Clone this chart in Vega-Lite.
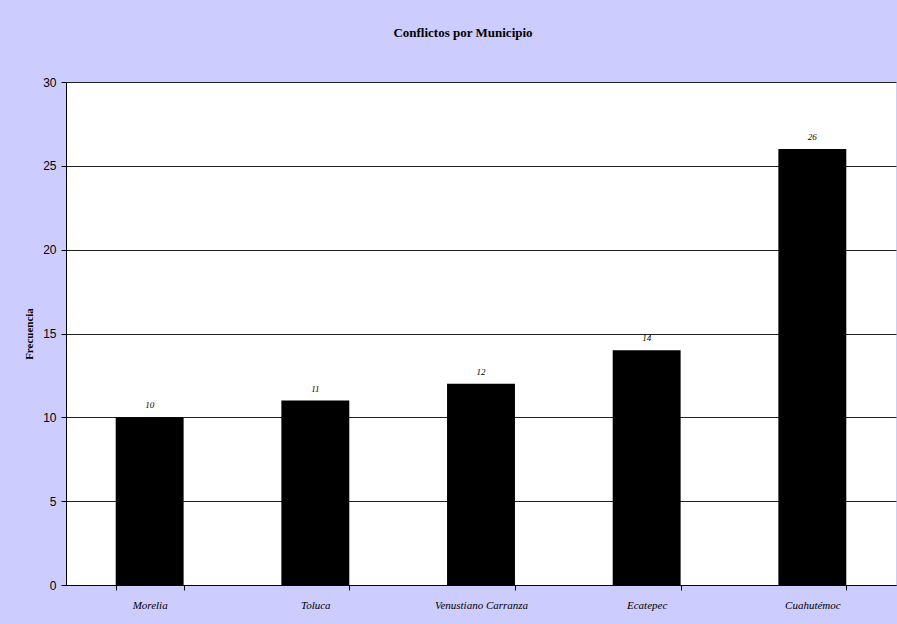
{
  "$schema": "https://vega.github.io/schema/vega-lite/v6.json",
  "width": 830,
  "height": 503,
  "autosize": {"type": "none"},
  "padding": {"left": 66, "top": 82, "right": 1, "bottom": 39},
  "background": "#CCCCFF",
  "config": {
    "view": {"fill": "white", "stroke": null},
    "font": "Liberation Sans"
  },
  "title": {
    "text": "Conflictos por Municipio",
    "font": "Liberation Serif",
    "fontSize": 13,
    "fontWeight": "bold",
    "color": "black",
    "anchor": "middle",
    "dx": -18,
    "offset": 36
  },
  "data": {
    "values": [
      {"municipio": "Morelia", "frecuencia": 10},
      {"municipio": "Toluca", "frecuencia": 11},
      {"municipio": "Venustiano Carranza", "frecuencia": 12},
      {"municipio": "Ecatepec", "frecuencia": 14},
      {"municipio": "Cuahutémoc", "frecuencia": 26}
    ]
  },
  "encoding": {
    "x": {
      "field": "municipio",
      "type": "nominal",
      "sort": null,
      "scale": {"paddingInner": 0.59, "paddingOuter": 0.3},
      "axis": {
        "title": null,
        "labelAngle": 0,
        "labelFont": "Liberation Serif",
        "labelFontStyle": "italic",
        "labelFontSize": 11,
        "labelColor": "black",
        "labelPadding": 9,
        "tickBand": "extent",
        "tickSize": 5,
        "tickColor": "black",
        "domainColor": "black",
        "grid": false
      }
    },
    "y": {
      "field": "frecuencia",
      "type": "quantitative",
      "scale": {"domain": [0, 30]},
      "axis": {
        "title": "Frecuencia",
        "titleFont": "Liberation Serif",
        "titleFontSize": 11,
        "titleFontWeight": "bold",
        "titleColor": "black",
        "titlePadding": 8,
        "values": [0, 5, 10, 15, 20, 25, 30],
        "labelFont": "Liberation Sans",
        "labelFontSize": 12,
        "labelColor": "black",
        "labelPadding": 5,
        "tickSize": 5,
        "tickColor": "black",
        "domainColor": "black",
        "gridColor": "#222222",
        "gridWidth": 1
      }
    }
  },
  "layer": [
    {"mark": {"type": "bar", "color": "black"}},
    {
      "mark": {
        "type": "text",
        "dy": -12,
        "font": "Liberation Serif",
        "fontStyle": "italic",
        "fontSize": 9,
        "color": "black"
      },
      "encoding": {"text": {"field": "frecuencia", "type": "quantitative"}}
    }
  ]
}
